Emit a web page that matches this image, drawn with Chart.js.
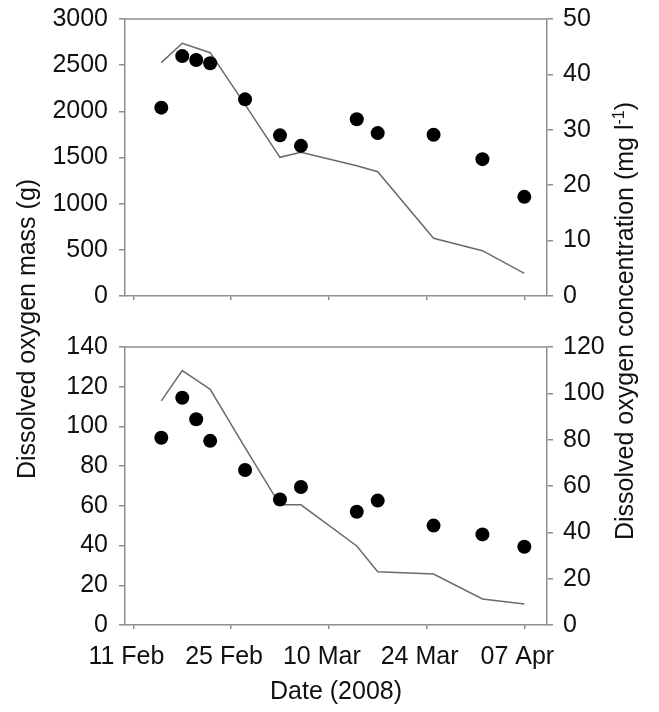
<!DOCTYPE html>
<html>
<head>
<meta charset="utf-8">
<script src="https://cdn.jsdelivr.net/npm/chart.js@4.4.1/dist/chart.umd.min.js"></script>
<style>
  body { margin: 0; background: #fff; }
  #wrap { position: relative; width: 659px; height: 712px; overflow: hidden; font-family: "Liberation Sans", Arial, sans-serif; }
  canvas { position: absolute; left: 0; }
  .ytitle { position: absolute; white-space: nowrap; font-size: 25px; line-height: 30px; color: #111;
            transform-origin: 0 0; transform: rotate(-90deg); }
  .ytitle sup { font-size: 16px; line-height: 0; }
</style>
</head>
<body>
<div id="wrap">
  <canvas id="topChart" style="top:0px"></canvas>
  <canvas id="bottomChart" style="top:328px"></canvas>
  <div class="ytitle" style="left:11px; top:479px">Dissolved oxygen mass (g)</div>
  <div class="ytitle" style="left:609px; top:540px">Dissolved oxygen concentration (mg l<sup>-1</sup>)</div>
</div>
<script>
// ngày lấy mẫu (2008)
const sampleDates = ["2008-02-15", "2008-02-18", "2008-02-20", "2008-02-22", "2008-02-27", "2008-03-03",
                     "2008-03-06", "2008-03-14", "2008-03-17", "2008-03-25", "2008-04-01", "2008-04-07"];
// panel trên: khối lượng (đường) và nồng độ (chấm)
const topMass = [2527, 2737, 2686, 2635, 2072, 1502, 1556, 1411, 1346, 625, 491, 246];
const topConc = [34.0, 43.3, 42.6, 42.0, 35.5, 29.0, 27.1, 31.9, 29.4, 29.1, 24.7, 17.9];
// panel dưới
const bottomMass = [112.9, 128.1, 123.4, 118.7, 89.3, 60.5, 60.5, 39.8, 26.8, 25.7, 13.1, 10.6];
const bottomConc = [80.8, 98.1, 88.8, 79.5, 66.9, 54.2, 59.6, 48.9, 53.7, 42.9, 39.1, 33.8];
// nhãn trục x
const tickDates = ["2008-02-11", "2008-02-25", "2008-03-10", "2008-03-24", "2008-04-07"];
const tickLabels = ["11 Feb", "25 Feb", "10 Mar", "24 Mar", "07 Apr"];

const day0 = Date.UTC(2008, 1, 11);
function toDay(s) {
  const p = s.split("-");
  return (Date.UTC(+p[0], +p[1] - 1, +p[2]) - day0) / 86400000;
}
const sampleDays = sampleDates.map(toDay);
const tickDays = tickDates.map(toDay);

Chart.defaults.font.family = '"Liberation Sans", Arial, sans-serif';
Chart.defaults.font.size = 25;
Chart.defaults.color = "#111";

const axisGray = "#8e8e8e";

// vẽ khung phía trên
const frame = {
  id: "frame",
  afterDraw(chart) {
    const a = chart.chartArea, c = chart.ctx;
    c.save();
    c.strokeStyle = axisGray;
    c.lineWidth = 1.5;
    c.beginPath();
    c.moveTo(a.left, a.top);
    c.lineTo(a.right, a.top);
    c.stroke();
    c.restore();
  }
};

function stepTicks(max, step) {
  return (s) => {
    const t = [];
    for (let v = 0; v <= max; v += step) t.push({ value: v });
    s.ticks = t;
  };
}

function makePanel(id, height, xHeight, massArr, concArr, massMax, massStep, concMax, concStep, showX) {
  const canvas = document.getElementById(id);
  canvas.width = 659;
  canvas.height = height;
  canvas.style.width = "659px";
  canvas.style.height = height + "px";
  return new Chart(canvas.getContext("2d"), {
    type: "line",
    data: {
      datasets: [
        {
          data: sampleDays.map((d, i) => ({ x: d, y: concArr[i] })),
          yAxisID: "yR",
          showLine: false,
          pointRadius: 7,
          pointBorderWidth: 0,
          pointBackgroundColor: "#000",
          borderColor: "#000"
        },
        {
          data: sampleDays.map((d, i) => ({ x: d, y: massArr[i] })),
          yAxisID: "yL",
          borderColor: "#6a6a6a",
          borderWidth: 1.5,
          pointRadius: 0,
          tension: 0
        }
      ]
    },
    options: {
      responsive: false,
      animation: false,
      layout: { padding: 0 },
      plugins: { legend: { display: false }, tooltip: { enabled: false } },
      scales: {
        x: {
          type: "linear",
          min: -1.2,
          max: 59.25,
          afterBuildTicks: (s) => { s.ticks = tickDays.map(v => ({ value: v })); },
          afterFit: (s) => { s.height = xHeight; },
          ticks: {
            display: showX,
            padding: 13,
            labelOffset: -7,
            maxRotation: 0,
            autoSkip: false,
            callback: (v, i) => tickLabels[i]
          },
          grid: { drawOnChartArea: false, drawTicks: true, tickLength: 4, color: axisGray, lineWidth: 1.5 },
          border: { color: axisGray, width: 1.5 },
          title: {
            display: showX,
            text: "Date (2008)",
            padding: { top: 0, bottom: 5 },
            font: { size: 25 }
          }
        },
        yL: {
          position: "left",
          min: 0,
          max: massMax,
          afterBuildTicks: stepTicks(massMax, massStep),
          afterFit: (s) => { s.width = 125; },
          ticks: { padding: 11, font: { size: 25, lineHeight: "16px" }, callback: (v) => String(v) },
          grid: { drawOnChartArea: false, drawTicks: true, tickLength: 6, color: axisGray, lineWidth: 1.5 },
          border: { color: axisGray, width: 1.5 }
        },
        yR: {
          position: "right",
          min: 0,
          max: concMax,
          afterBuildTicks: stepTicks(concMax, concStep),
          afterFit: (s) => { s.width = 112; },
          ticks: { padding: 10, font: { size: 25, lineHeight: "16px" }, callback: (v) => String(v) },
          grid: { drawOnChartArea: false, drawTicks: true, tickLength: 6, color: axisGray, lineWidth: 1.5 },
          border: { color: axisGray, width: 1.5 }
        }
      }
    },
    plugins: [frame]
  });
}

makePanel("topChart", 315, 19, topMass, topConc, 3000, 500, 50, 10, false);
makePanel("bottomChart", 384, 87, bottomMass, bottomConc, 140, 20, 120, 20, true);
</script>
</body>
</html>
